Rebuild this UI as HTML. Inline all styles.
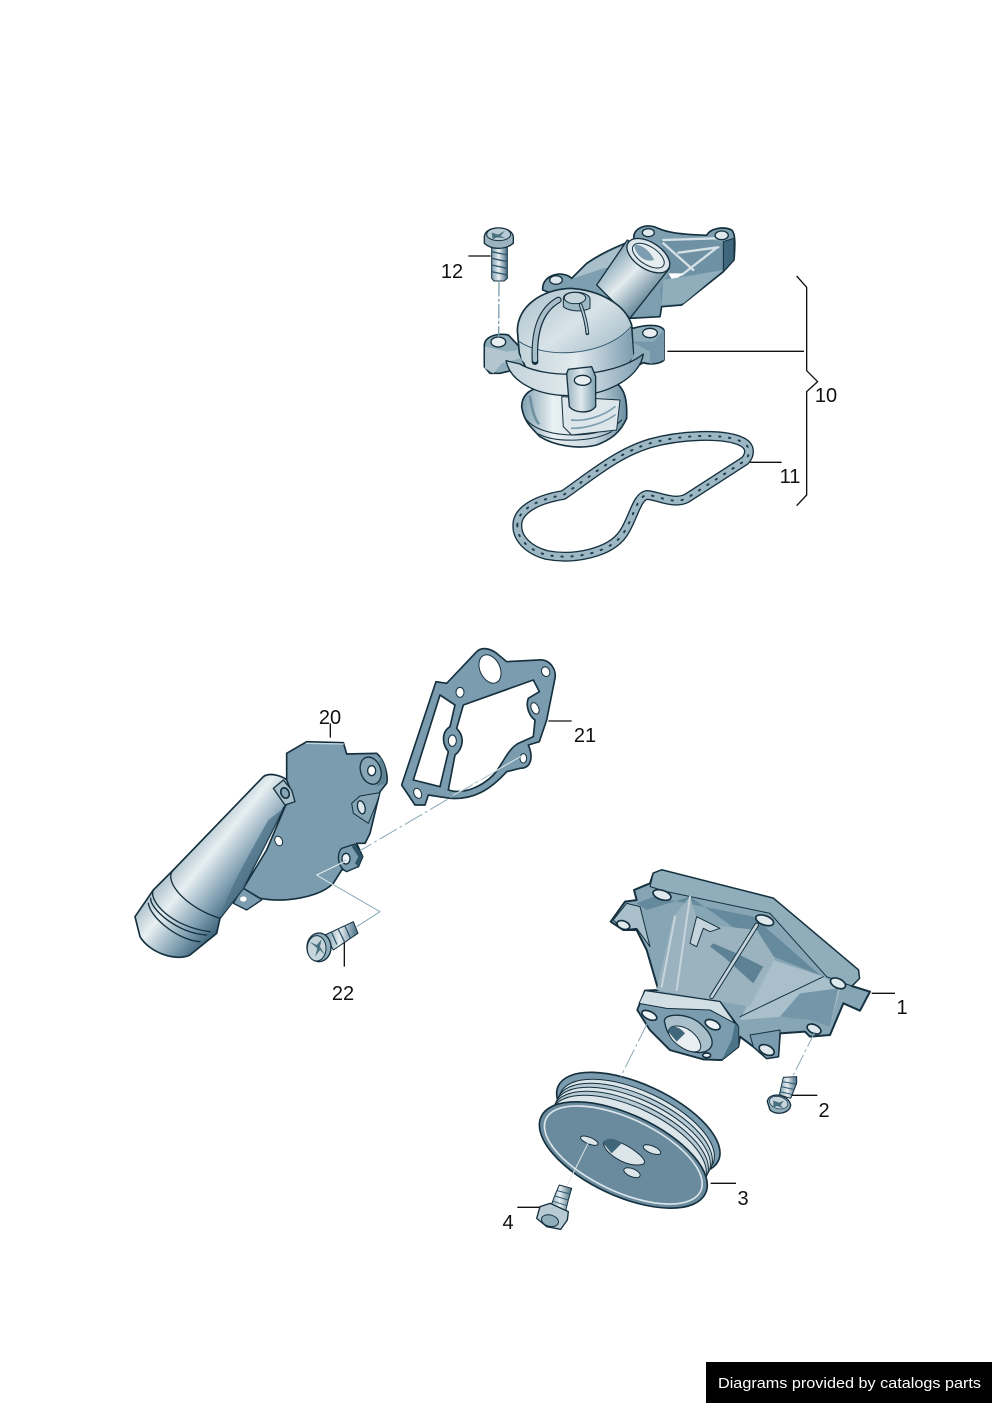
<!DOCTYPE html>
<html lang="en"><head><meta charset="utf-8"><title>Diagram</title>
<style>html,body{margin:0;padding:0;background:#fff}svg{display:block}
text{font-family:"Liberation Sans","DejaVu Sans",sans-serif;fill:#111}</style></head>
<body>
<svg width="992" height="1403" viewBox="0 0 992 1403" xmlns="http://www.w3.org/2000/svg">
<defs>
<linearGradient id="pipe" gradientUnits="userSpaceOnUse" x1="190" y1="590" x2="400" y2="760"><stop offset="0" stop-color="#93adba"/><stop offset=".36" stop-color="#e8eff2"/><stop offset=".72" stop-color="#7d9db0"/><stop offset="1" stop-color="#33596f"/></linearGradient>
<linearGradient id="tp" gradientUnits="userSpaceOnUse" x1="540" y1="130" x2="680" y2="270"><stop offset="0" stop-color="#7fa0b1"/><stop offset=".45" stop-color="#e4ecef"/><stop offset="1" stop-color="#4d7388"/></linearGradient>
<linearGradient id="dome" x1="0" y1="0" x2="1" y2="1"><stop offset="0" stop-color="#a9bfca"/><stop offset=".45" stop-color="#d8e3e8"/><stop offset="1" stop-color="#8aa8b8"/></linearGradient>
<linearGradient id="body" x1="0" y1="0" x2="1" y2="0"><stop offset="0" stop-color="#7f9fb0"/><stop offset=".3" stop-color="#eaf1f3"/><stop offset=".7" stop-color="#c6d6dd"/><stop offset="1" stop-color="#6b8ea1"/></linearGradient>
<linearGradient id="band" x1="0" y1="0" x2="1" y2="0"><stop offset="0" stop-color="#c3d3da"/><stop offset=".5" stop-color="#e2eaee"/><stop offset="1" stop-color="#7d9db0"/></linearGradient>
<linearGradient id="boss" x1="0" y1="0" x2="1" y2="0"><stop offset="0" stop-color="#9ab3bf"/><stop offset=".5" stop-color="#e0e9ed"/><stop offset="1" stop-color="#80a0b0"/></linearGradient>
<linearGradient id="screw" x1="0" y1="0" x2="1" y2="0"><stop offset="0" stop-color="#7c9cad"/><stop offset=".45" stop-color="#e8eff2"/><stop offset="1" stop-color="#456b80"/></linearGradient>
</defs>

<!-- thermostat group -->
<g transform="translate(430 210) scale(.33333)" stroke-linejoin="round" stroke-linecap="round">
 <path d="M338,240 C335,192 400,180 425,205 L470,160 C520,125 570,105 612,90 C606,58 640,42 672,50 C692,56 700,72 830,76 C840,55 880,48 905,60 C916,70 916,100 912,150 L880,185 L755,285 L695,290 L690,320 L600,325 L500,300 Z" fill="#7e9fb0" stroke="#15303e" stroke-width="5"/>
 <path d="M430,205 L470,165 C530,125 580,105 620,95 L650,150 L520,175 Z" fill="#a9c0cb"/>
 <path d="M690,90 L830,82 L880,100 L880,180 L760,280 L695,285 L690,240 L720,180 Z" fill="#6f91a4"/>
 <path d="M700,100 L790,180 M745,128 L865,112 M755,195 L862,112 M700,90 L860,85" stroke="#d5e1e6" stroke-width="7" fill="none"/>
 <path d="M880,95 L912,85 L912,150 L880,185 Z" fill="#3f667b" stroke="#15303e" stroke-width="3"/>
 <path d="M715,190 L760,190 L730,215 Z" fill="#fff"/>
 <path d="M700,210 L880,180 L760,280 L695,285Z" fill="#8fadbb"/>
 <ellipse cx="655" cy="68" rx="18" ry="12" fill="#dfe8ec" stroke="#15303e" stroke-width="4"/>
 <ellipse cx="875" cy="76" rx="20" ry="13" fill="#dfe8ec" stroke="#15303e" stroke-width="4"/>
 <ellipse cx="378" cy="210" rx="19" ry="13" fill="#dfe8ec" stroke="#15303e" stroke-width="4"/>
 <path d="M500,225 L592,90 L718,175 L600,325 Z" fill="url(#tp)" stroke="#15303e" stroke-width="4"/>
 <ellipse cx="655" cy="137" rx="72" ry="40" transform="rotate(33 655 137)" fill="#dbe5ea" stroke="#15303e" stroke-width="4"/>
 <ellipse cx="655" cy="137" rx="54" ry="27" transform="rotate(33 655 137)" fill="#e6edf0" stroke="#15303e" stroke-width="3"/>
 <path d="M612,105 C630,100 660,120 672,150 C640,160 615,130 612,105Z" fill="#7d9db0"/>

 <path d="M275,590 C275,555 300,540 320,535 L560,520 C585,540 592,570 590,625 C570,670 540,690 500,705 C440,720 370,705 330,680 C300,650 280,630 275,590Z" fill="url(#body)" stroke="#15303e" stroke-width="5"/>
 <path d="M290,630 C340,690 520,690 575,630 M325,672 C380,700 490,695 545,665" fill="none" stroke="#15303e" stroke-width="3"/>
 <path d="M395,560 L400,650 L425,675 L560,660 L570,570 Z" fill="#dde6ea" stroke="#15303e" stroke-width="3"/>
 <path d="M300,560 C305,590 310,620 325,640" fill="none" stroke="#6f91a4" stroke-width="8"/>
 <path d="M425,630 C460,635 520,620 555,590 M425,655 C470,655 520,640 555,615" fill="none" stroke="#7d9db0" stroke-width="5"/>

 <path d="M163,405 C165,380 200,368 235,375 L268,410 L590,340 L610,355 C640,345 690,340 702,360 L702,450 C690,462 660,465 640,458 L600,480 L250,480 L210,490 L180,490 L163,470 Z" fill="#8fadbb" stroke="#15303e" stroke-width="5"/>
 <path d="M165,410 L230,425 L270,420 L270,445 L215,460 L190,490 L165,475Z" fill="#b3c6cf"/>
 <path d="M605,395 L660,425 L660,462 L702,450 L702,360 L670,395Z" fill="#7698aa"/>
 <ellipse cx="205" cy="396" rx="22" ry="15" fill="#e8eef1" stroke="#15303e" stroke-width="4"/>
 <ellipse cx="660" cy="369" rx="22" ry="14" fill="#e8eef1" stroke="#15303e" stroke-width="4"/>

 <path d="M262,360 C265,290 330,240 420,235 C505,240 585,280 605,345 L610,430 L580,500 L300,500 L268,430 Z" fill="url(#dome)" stroke="#15303e" stroke-width="5"/>
 <path d="M268,400 C340,445 520,445 603,355 L610,440 L570,490 L330,500 L275,450 Z" fill="url(#band)"/>
 <path d="M268,395 C340,445 520,445 603,350" fill="none" stroke="#31596f" stroke-width="3"/>
 <path d="M228,452 L270,462 C340,505 540,510 640,432 C635,470 600,510 540,535 C470,565 360,565 295,530 C255,510 235,485 228,452Z" fill="url(#band)" stroke="#15303e" stroke-width="4"/>
 <path d="M410,490 L415,478 L485,470 L497,500 L497,590 C480,612 435,610 418,590 Z" fill="url(#boss)" stroke="#15303e" stroke-width="4"/>
 <ellipse cx="458" cy="511" rx="25" ry="15" fill="#e8eef1" stroke="#15303e" stroke-width="4"/>
 <path d="M400,265 C400,240 470,240 480,265 L480,295 C450,310 410,300 400,290 Z" fill="#9db7c3" stroke="#15303e" stroke-width="3"/>
 <ellipse cx="435" cy="264" rx="32" ry="17" fill="#c6d5dc" stroke="#15303e" stroke-width="3"/>
 <path d="M385,270 C340,295 310,350 315,455" fill="none" stroke="#15303e" stroke-width="20"/>
 <path d="M385,270 C340,295 310,350 315,450" fill="none" stroke="#a8bfca" stroke-width="13"/>
 <path d="M452,285 C465,320 470,345 472,370" fill="none" stroke="#15303e" stroke-width="11"/>
 <path d="M452,285 C465,320 470,345 472,368" fill="none" stroke="#b8cbd4" stroke-width="5"/>

 <!-- screw 12 -->
 <path d="M185,95 L232,95 L232,205 L222,213 L192,213 L185,205Z" fill="url(#screw)" stroke="#15303e" stroke-width="3"/>
 <path d="M185,125 L232,135 M185,145 L232,155 M185,165 L232,175 M185,185 L232,195" stroke="#31596f" stroke-width="4"/>
 <path d="M163,80 C165,45 245,45 250,80 L250,100 C225,120 185,120 163,100Z" fill="#9ab3bf" stroke="#15303e" stroke-width="4"/>
 <ellipse cx="206" cy="73" rx="36" ry="19" fill="#b8cbd4" stroke="#15303e" stroke-width="3"/>
 <path d="M185,68 L205,74 L225,62 L212,78 L226,84 L200,82 L188,88 Z" fill="#48707f"/>
 <path d="M207,218 L206,380" stroke="#7d9dae" stroke-width="4" stroke-dasharray="40 10 6 10" fill="none"/>

 <!-- gasket 11 -->
 <path d="M262,945 C262,905 310,870 400,855 C480,800 560,730 660,700 C750,675 880,668 935,695 C965,710 960,735 945,752 L770,865 C730,885 680,855 650,855 C620,860 610,925 580,970 C540,1030 430,1050 350,1035 C295,1020 260,985 262,945 Z" fill="#fff" stroke="#15303e" stroke-width="30"/>
 <path d="M262,945 C262,905 310,870 400,855 C480,800 560,730 660,700 C750,675 880,668 935,695 C965,710 960,735 945,752 L770,865 C730,885 680,855 650,855 C620,860 610,925 580,970 C540,1030 430,1050 350,1035 C295,1020 260,985 262,945 Z" fill="none" stroke="#9db7c4" stroke-width="22"/>
 <path d="M262,945 C262,905 310,870 400,855 C480,800 560,730 660,700 C750,675 880,668 935,695 C965,710 960,735 945,752 L770,865 C730,885 680,855 650,855 C620,860 610,925 580,970 C540,1030 430,1050 350,1035 C295,1020 260,985 262,945 Z" fill="none" stroke="#20404f" stroke-width="6" stroke-dasharray="4 26"/>

 <g fill="none" stroke="#111" stroke-width="4" stroke-linecap="butt">
  <path d="M1100,198 L1130,232 L1130,482 L1163,515 L1130,545 L1130,855 L1100,887"/>
  <path d="M712,424 H1122 M960,757 H1055 M115,138 H182"/>
 </g>
</g>

<!-- cover & gasket group -->
<g transform="translate(120 640) scale(.33333)" stroke-linejoin="round" stroke-linecap="round">
 <path fill-rule="evenodd" fill="#7b9cae" stroke="#15303e" stroke-width="5" d="M845,435 L948,125 L980,130 L1070,35 C1085,20 1110,25 1130,40 L1160,65 L1255,60 C1290,55 1310,90 1305,115 L1280,240 L1258,305 L1225,315 C1240,350 1235,385 1200,385 L1160,395 C1110,450 1060,480 990,475 L925,465 L915,495 L885,495 Z
 M880,420 L960,165 L1005,195 L990,260 C965,275 965,310 985,335 L960,440 L920,430 Z
 M1030,195 L1240,120 L1258,155 L1225,175 C1215,200 1230,230 1245,240 L1240,290 L1195,310 C1160,330 1145,380 1120,405 C1085,440 1030,465 985,450 L1005,345 C1030,325 1035,290 1010,265 Z"/>
 <g fill="#fff" stroke="#15303e" stroke-width="3">
  <ellipse cx="1110" cy="87" rx="30" ry="45" transform="rotate(-25 1110 87)"/>
  <ellipse cx="1020" cy="157" rx="12" ry="15"/><ellipse cx="1277" cy="95" rx="12" ry="15" transform="rotate(-25 1277 95)"/>
  <ellipse cx="1245" cy="205" rx="11" ry="18" transform="rotate(-25 1245 205)"/><ellipse cx="997" cy="302" rx="12" ry="17"/>
  <ellipse cx="893" cy="460" rx="11" ry="16" transform="rotate(-25 893 460)"/><ellipse cx="1210" cy="355" rx="10" ry="14"/>
 </g>

 <path d="M340,790 L370,740 L410,760 L425,780 L410,790 L380,810 Z" fill="#7b9cae" stroke="#15303e" stroke-width="4"/>
 <ellipse cx="370" cy="777" rx="10" ry="8" fill="#fff"/>
 <path d="M500,340 L560,305 L670,308 L680,342 L770,340 C795,360 805,410 800,430 L780,455 L750,580 L735,610 L710,610 L728,650 L715,680 L665,690 L640,730 C600,770 500,790 420,775 L370,745 L440,630 L495,500 L500,420 Z" fill="#7b9cae" stroke="#15303e" stroke-width="5"/>
 <path d="M560,310 L670,312" stroke="#c6d5dc" stroke-width="4"/>
 <path d="M780,350 C800,380 800,410 795,430 L770,440 Z" fill="#5f8295"/>
 <ellipse cx="752" cy="392" rx="30" ry="42" transform="rotate(-20 752 392)" fill="#86a5b5" stroke="#15303e" stroke-width="4"/>
 <ellipse cx="755" cy="392" rx="12" ry="15" fill="#fff" stroke="#15303e" stroke-width="4"/>
 <path d="M780,458 L720,468 L695,490 L700,520 L745,550 L770,490Z" fill="#86a5b5" stroke="#15303e" stroke-width="3"/>
 <ellipse cx="724" cy="502" rx="11" ry="20" transform="rotate(-15 724 502)" fill="#dfe8ec" stroke="#15303e" stroke-width="4"/>
 <ellipse cx="476" cy="603" rx="11" ry="15" transform="rotate(-25 476 603)" fill="#fff" stroke="#15303e" stroke-width="3"/>
 <path d="M705,612 L728,650 L715,680 L680,695 C650,680 650,640 665,625 Z" fill="#7b9cae" stroke="#15303e" stroke-width="4"/>
 <path d="M705,612 L728,650 L715,680 L705,670 L715,650 L695,620 Z" fill="#2e5568"/>
 <ellipse cx="678" cy="656" rx="12" ry="16" fill="#eef3f5" stroke="#15303e" stroke-width="4"/>

 <path d="M45,830 L100,750 L160,690 L430,410 C450,395 490,410 500,420 L520,470 L490,505 C450,590 400,680 370,745 L300,835 L290,880 L210,945 C170,965 90,940 60,890 Z" fill="url(#pipe)" stroke="#15303e" stroke-width="5"/>
 <path d="M490,505 C450,590 400,680 370,745 L300,835 C320,760 400,620 445,540Z" fill="#4d7388" opacity=".75"/>
 <path d="M160,690 C130,720 190,800 300,835 M100,750 C85,780 150,860 270,875 M92,775 C90,805 170,880 260,885 M85,790 C90,830 170,900 240,905" fill="none" stroke="#15303e" stroke-width="4"/>
 <path d="M460,445 L490,420 L515,450 L525,485 L495,495 Z" fill="#a9c0cb" stroke="#15303e" stroke-width="4"/>
 <ellipse cx="495" cy="459" rx="12" ry="16" transform="rotate(-25 495 459)" fill="#86a5b5" stroke="#15303e" stroke-width="5"/>

 <!-- screw 22 -->
 <path d="M615,885 L700,845 L714,880 L640,930 Z" fill="url(#screw)" stroke="#15303e" stroke-width="3"/>
 <path d="M635,878 L650,912 M655,868 L672,902 M675,858 L690,892" stroke="#31596f" stroke-width="4"/>
 <ellipse cx="597" cy="922" rx="36" ry="43" fill="#8fadbb" stroke="#15303e" stroke-width="4"/>
 <ellipse cx="590" cy="925" rx="28" ry="38" fill="#c6d5dc" stroke="#15303e" stroke-width="3"/>
 <path d="M568,905 L592,925 L585,950 L600,930 L615,945 L600,920 L605,898 L590,915Z" fill="#48707f"/>

 <g fill="none" stroke="#8aa8b7" stroke-width="3" stroke-linecap="butt">
  <path d="M1210,345 L720,632" stroke-dasharray="60 10 8 10"/>
  <path d="M680,660 L590,705 L780,815 L710,860"/>
 </g>
 <path d="M680,662 L590,705 L640,735" fill="none" stroke="#e6eef1" stroke-width="3"/>
 <path d="M1210,345 L1000,465" stroke="#dfe8ec" stroke-width="3" fill="none"/>
 <g fill="none" stroke="#111" stroke-width="4" stroke-linecap="butt">
  <path d="M631,250 V293 M1285,243 H1355 M673,905 V980"/>
 </g>
</g>

<!-- pump group -->
<g transform="translate(490 860) scale(.33333)" stroke-linejoin="round" stroke-linecap="round">
 <path d="M490,40 L515,30 L850,115 L1105,330 L1108,355 L1085,378 L1140,395 L1110,452 L1060,430 L1020,525 L960,530 L945,515 L870,520 L865,590 L830,595 L790,560 L750,530 L745,560 L695,600 L640,598 L540,570 L480,510 L442,450 L465,392 L505,390 L470,270 L440,210 L400,210 L362,185 L405,125 L440,120 L432,90 L480,70 Z" fill="#86a5b5" stroke="#15303e" stroke-width="6"/>
 <path d="M490,40 L515,30 L850,115 L1105,330 L1108,355 L1085,378 L1010,350 L840,160 L530,95 L480,80 Z" fill="#8fadbb" stroke="#15303e" stroke-width="3"/>
 <path d="M440,130 L490,110 L790,170 L990,345 L850,290 L700,180 L600,110 L470,150 Z" fill="#668a9d"/>
 <path d="M850,300 L1000,350 L1050,385 L1020,500 L960,480 L880,470 L750,480 L790,400 Z" fill="#a9c0cb"/>
 <path d="M930,400 L1045,385 L1020,500 L960,480 L870,470 Z" fill="#7496a8"/>
 <path d="M750,470 L1000,350" stroke="#15303e" stroke-width="3" fill="none"/>
 <path d="M500,390 L550,170 L600,110 L625,190 L800,210 L855,295 L780,440 L690,425 Z" fill="#9ab3bf"/>
 <path d="M670,250 L740,280 L820,320 L790,370 L700,290 L660,260 Z" fill="#5e8295"/>
 <path d="M600,250 L620,170 L690,205 L660,215 L640,205 L620,260 Z" fill="#c6d5dc" stroke="#15303e" stroke-width="3"/>
 <path d="M800,195 L665,410" stroke="#15303e" stroke-width="14" fill="none"/>
 <path d="M800,195 L665,410" stroke="#c6d5dc" stroke-width="8" fill="none"/>
 <path d="M555,170 L515,380 M600,110 L560,390" stroke="#c6d5dc" stroke-width="6" fill="none"/>
 <path d="M780,525 L870,510 L865,590 L830,595 L790,560Z" fill="#7b9cae" stroke="#15303e" stroke-width="3"/>
 <path d="M370,180 L410,130 L450,140 L480,260 L440,205 L400,210Z" fill="#a9c0cb" stroke="#15303e" stroke-width="3"/>
 <g fill="#dfe8ec" stroke="#15303e" stroke-width="5">
  <ellipse cx="516" cy="105" rx="28" ry="14" transform="rotate(18 516 105)"/>
  <ellipse cx="824" cy="181" rx="28" ry="14" transform="rotate(20 824 181)"/>
  <ellipse cx="1044" cy="370" rx="24" ry="14" transform="rotate(25 1044 370)"/>
  <ellipse cx="972" cy="507" rx="22" ry="13" transform="rotate(25 972 507)"/>
  <ellipse cx="830" cy="570" rx="24" ry="14" transform="rotate(25 830 570)"/>
  <ellipse cx="400" cy="195" rx="20" ry="12" transform="rotate(20 400 195)"/>
 </g>
 <!-- hub -->
 <path d="M465,392 L690,425 L745,500 L745,560 L695,600 L640,598 L540,570 L480,510 L442,450 Z" fill="#7b9cae" stroke="#15303e" stroke-width="5"/>
 <path d="M465,392 L690,425 L735,490 L660,450 L530,445 L447,430 Z" fill="#d1dee4" stroke="#15303e" stroke-width="3"/>
 <path d="M735,490 L745,500 L745,560 L695,600 L725,540Z" fill="#4d7388"/>
 <path d="M525,490 C510,460 590,455 630,490 C670,525 680,560 645,575 C600,590 530,540 525,490Z" fill="#a9c0cb" stroke="#15303e" stroke-width="4"/>
 <path d="M535,515 C540,490 580,495 605,515 C635,540 640,570 620,575 C590,580 540,545 535,515Z" fill="#e8eef1" stroke="#15303e" stroke-width="3"/>
 <path d="M535,515 C540,490 570,500 585,520 L560,545Z" fill="#3f667b"/>
 <g fill="#eef3f5" stroke="#15303e" stroke-width="5">
  <ellipse cx="478" cy="466" rx="24" ry="12" transform="rotate(25 478 466)"/>
  <ellipse cx="668" cy="494" rx="24" ry="13" transform="rotate(25 668 494)"/>
  <ellipse cx="650" cy="586" rx="12" ry="7"/>
 </g>

 <!-- pulley -->
 <ellipse cx="445" cy="790" rx="265" ry="115" transform="rotate(25 445 790)" fill="#7b9cae" stroke="#15303e" stroke-width="5"/>
 <ellipse cx="440" cy="805" rx="252" ry="112" transform="rotate(25 440 805)" fill="#dce6ea" stroke="#15303e" stroke-width="3"/>
 <ellipse cx="434" cy="817" rx="252" ry="112" transform="rotate(25 434 817)" fill="#b8cbd4" stroke="#15303e" stroke-width="3"/>
 <ellipse cx="428" cy="829" rx="252" ry="112" transform="rotate(25 428 829)" fill="#dce6ea" stroke="#15303e" stroke-width="3"/>
 <ellipse cx="422" cy="841" rx="252" ry="112" transform="rotate(25 422 841)" fill="#b8cbd4" stroke="#15303e" stroke-width="3"/>
 <ellipse cx="416" cy="853" rx="252" ry="112" transform="rotate(25 416 853)" fill="#dce6ea" stroke="#15303e" stroke-width="3"/>
 <ellipse cx="400" cy="885" rx="272" ry="122" transform="rotate(25 400 885)" fill="#6a8b9e" stroke="#15303e" stroke-width="5"/>
 <ellipse cx="400" cy="885" rx="256" ry="110" transform="rotate(25 400 885)" fill="none" stroke="#dce6ea" stroke-width="5"/>
 <g stroke="#15303e" stroke-width="3" fill="#dce6ea">
  <path d="M340,850 C350,825 410,850 450,885 C470,905 470,915 440,915 C400,915 345,880 340,850Z"/>
  <ellipse cx="298" cy="842" rx="28" ry="10" transform="rotate(22 298 842)"/>
  <ellipse cx="486" cy="869" rx="28" ry="11" transform="rotate(22 486 869)"/>
  <ellipse cx="426" cy="938" rx="26" ry="12" transform="rotate(22 426 938)"/>
 </g>
 <path d="M340,850 C350,825 385,840 395,850 L365,880Z" fill="#3f667b"/>

 <!-- dash lines -->
 <g fill="none" stroke="#8aa8b7" stroke-width="3" stroke-linecap="butt">
  <path d="M472,490 L392,650" stroke-dasharray="60 10 8 10"/>
  <path d="M975,515 L910,645" stroke-dasharray="50 10 8 10"/>
  <path d="M298,842 L232,975" stroke="#dce6ea"/>
 </g>

 <!-- screw 2 -->
 <path d="M880,652 L920,650 L920,670 L902,715 L868,705 Z" fill="url(#screw)" stroke="#15303e" stroke-width="3"/>
 <path d="M878,665 L916,672 M874,680 L910,688 M870,695 L905,703" stroke="#31596f" stroke-width="3"/>
 <path d="M832,725 C835,695 895,700 902,735 C900,760 860,768 840,750Z" fill="#8fadbb" stroke="#15303e" stroke-width="4"/>
 <ellipse cx="866" cy="728" rx="28" ry="18" transform="rotate(15 866 728)" fill="#c6d5dc" stroke="#15303e" stroke-width="2"/>
 <path d="M850,722 L868,728 L882,722 L872,735 L880,745 L862,738 L850,742Z" fill="#48707f"/>

 <!-- screw 4 -->
 <path d="M208,975 L245,985 L235,1020 L225,1060 L180,1045 L195,1005 Z" fill="url(#screw)" stroke="#15303e" stroke-width="3"/>
 <path d="M202,992 L240,1002 M195,1008 L235,1020 M190,1024 L228,1036" stroke="#31596f" stroke-width="3"/>
 <path d="M150,1040 L180,1030 L235,1055 L232,1080 L212,1108 L170,1100 L140,1075Z" fill="#b8cbd4" stroke="#15303e" stroke-width="4"/>
 <ellipse cx="180" cy="1082" rx="26" ry="17" transform="rotate(15 180 1082)" fill="#8fadbb" stroke="#15303e" stroke-width="3"/>

 <g fill="none" stroke="#111" stroke-width="4" stroke-linecap="butt">
  <path d="M1145,400 H1215 M905,706 H982 M662,970 H738 M82,1042 H150"/>
 </g>
</g>

<!-- labels -->
<g font-size="20" text-anchor="middle">
 <text x="452" y="278">12</text>
 <text x="826" y="402">10</text>
 <text x="790" y="483">11</text>
 <text x="330" y="724">20</text>
 <text x="585" y="742">21</text>
 <text x="343" y="1000">22</text>
 <text x="902" y="1014">1</text>
 <text x="824" y="1117">2</text>
 <text x="743" y="1205">3</text>
 <text x="508" y="1229">4</text>
</g>

<rect x="706" y="1362" width="286" height="41" fill="#000"/>
<text x="718" y="1388" font-size="15" style="fill:#fff" textLength="263" lengthAdjust="spacingAndGlyphs">Diagrams provided by catalogs parts</text>
</svg>
</body></html>
